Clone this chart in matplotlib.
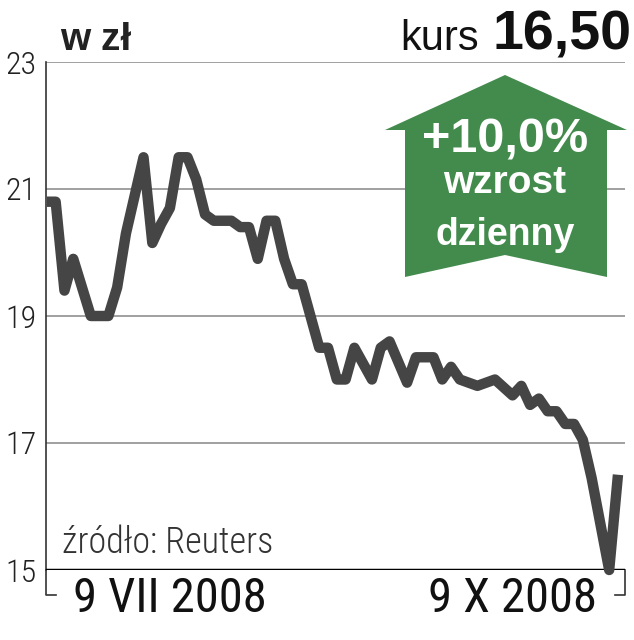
import matplotlib
matplotlib.use('Agg')
import matplotlib.pyplot as plt
from matplotlib.patches import Polygon

# trading day index (0 = 9 VII 2008, 65 = 9 X 2008) and closing price
days = [0, 1, 2, 3, 5, 7, 8, 9, 11, 12, 13, 14, 15, 16, 17, 18, 19, 21, 22, 23,
        24, 25, 26, 27, 28, 29, 31, 32, 33, 34, 35, 37, 38, 39, 41, 42, 44, 45, 46, 47,
        49, 51, 53, 54, 55, 56, 57, 58, 59, 60, 61, 62, 64, 65]
prices = [20.8, 20.8, 19.4, 19.9, 19.0, 19.0, 19.45, 20.3, 21.5, 20.15,
          20.45, 20.7, 21.5, 21.5, 21.15, 20.6, 20.5, 20.5, 20.4, 20.4,
          19.9, 20.5, 20.5, 19.9, 19.5, 19.5, 18.5, 18.5, 18.0, 18.0,
          18.5, 18.0, 18.5, 18.6, 17.95, 18.35, 18.35, 18.0, 18.2, 18.0,
          17.9, 18.0, 17.75, 17.9, 17.6, 17.7, 17.5, 17.5, 17.3, 17.3,
          17.05, 16.45, 15.0, 16.5]
yticks = [15, 17, 19, 21, 23]
xlabels = ['9 VII 2008', '9 X 2008']
xlabel_pos = [14, 53]

COND = 'Roboto Condensed'
SANS = 'Liberation Sans'

W, H = 634, 640
fig = plt.figure(figsize=(W / 100, H / 100), dpi=100)


def fx(px):
    return px / W


def fy(py):
    return (H - py) / H


ax = fig.add_axes([fx(46), fy(570), fx(625) - fx(46), fy(62) - fy(570)])
ax.set_xlim(-0.1, 65.8)
ax.set_ylim(15, 23)

for v in yticks[1:]:
    ax.axhline(v, color='#999999', lw=1.3, zorder=1)
ax.axhline(15, color='black', lw=2.5, zorder=3)

ax.plot(days, prices, color='#454545', lw=7.5, solid_joinstyle='round',
        solid_capstyle='butt', zorder=4, clip_on=False)

for s in ['top', 'right', 'bottom']:
    ax.spines[s].set_visible(False)
ax.spines['left'].set_color('#333333')
ax.spines['left'].set_linewidth(1.2)

ax.set_yticks(yticks)
ax.set_yticklabels([str(v) for v in yticks], fontsize=23, family=COND,
                   fontweight='light', color='#222222')
ax.tick_params(axis='y', length=0, pad=7)
ax.set_xticks([])

# small brackets below the baseline
bx = 10 / 579
by = 25 / 508
ax.plot([bx, 0, 0], [-by, -by, 0], transform=ax.transAxes, color='#333333',
        lw=1.2, clip_on=False)
ax.plot([1 - bx, 1, 1], [-by, -by, 0], transform=ax.transAxes, color='#333333',
        lw=1.2, clip_on=False)

for lab, p in zip(xlabels, xlabel_pos):
    x_fig = fig.transFigure.inverted().transform(ax.transData.transform((p, 15)))[0]
    fig.text(x_fig, fy(612), lab, ha='center', va='baseline', fontsize=35,
             family=COND, color='#111111')

fig.text(fx(62), fy(553), 'źródło: Reuters', fontsize=26, family=COND,
         fontweight='light', color='#333333', va='baseline')

fig.text(fx(60), fy(50), 'w zł', fontsize=28, fontweight='bold',
         family=SANS, color='#222222', va='baseline')
fig.text(fx(631), fy(50), '16,50', fontsize=40, fontweight='bold',
         family=SANS, color='#111111', va='baseline', ha='right')
fig.text(fx(479), fy(50), 'kurs', fontsize=30,
         family=SANS, color='#111111', va='baseline', ha='right')

arrow = [(505, 75), (627, 130), (607, 130), (607, 277), (505, 255),
         (405, 277), (405, 130), (385, 130)]
fig.patches.append(Polygon([(fx(x), fy(y)) for x, y in arrow], closed=True,
                           transform=fig.transFigure, facecolor='#438b4d',
                           edgecolor='none', zorder=5))

fig.text(fx(505), fy(152), '+10,0%', fontsize=35, fontweight='bold',
         family=SANS, color='white', ha='center', va='baseline', zorder=6)
fig.text(fx(505), fy(193), 'wzrost', fontsize=28, fontweight='bold',
         family=SANS, color='white', ha='center', va='baseline', zorder=6)
fig.text(fx(505), fy(245), 'dzienny', fontsize=27, fontweight='bold',
         family=SANS, color='white', ha='center', va='baseline', zorder=6)

fig.savefig('out.png', dpi=100)
